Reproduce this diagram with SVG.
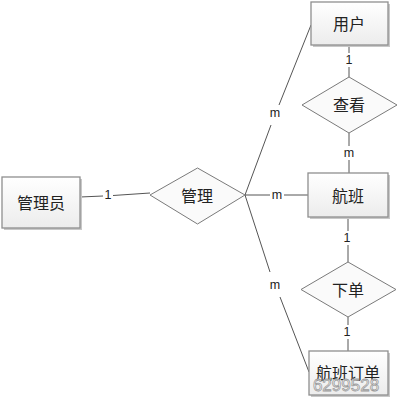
<svg xmlns="http://www.w3.org/2000/svg" width="401" height="401" viewBox="0 0 401 401">
<style>
.box{fill:url(#g);stroke:#8f8f8f;stroke-width:1.3}
.sh{fill:#c8c8c8}
.dia{fill:#fafafa;stroke:#7a7a7a;stroke-width:1}
.t{font-family:"Noto Sans CJK SC","Liberation Sans",sans-serif;font-size:16px;fill:#222;text-anchor:middle;dominant-baseline:central}
.l{font-family:"Liberation Sans",Arial,sans-serif;font-size:12.5px;fill:#222;text-anchor:middle;dominant-baseline:central}
.c{stroke:#555;stroke-width:1;fill:none}
.wm{font-family:"Liberation Sans",Arial,sans-serif;font-size:17px;fill:#fff;stroke:#9a9a9a;stroke-width:0.8;text-anchor:middle;dominant-baseline:central}
</style>
<defs>
<linearGradient id="g" x1="0" y1="0" x2="0" y2="1">
<stop offset="0" stop-color="#ffffff"/>
<stop offset="1" stop-color="#ececec"/>
</linearGradient>
</defs>
<rect width="401" height="401" fill="#fff"/>
<g id="connectors">
<line class="c" x1="80" y1="197" x2="103" y2="196"/>
<line class="c" x1="113" y1="195.5" x2="150" y2="193"/>
<line class="c" x1="245" y1="195" x2="270" y2="195"/>
<line class="c" x1="284" y1="195" x2="308" y2="195"/>
<line class="c" x1="245" y1="195" x2="271" y2="125"/>
<line class="c" x1="279" y1="105" x2="311" y2="25"/>
<line class="c" x1="245" y1="195" x2="270" y2="272"/>
<line class="c" x1="280" y1="297" x2="309" y2="372"/>
<line class="c" x1="349" y1="45" x2="349" y2="53"/>
<line class="c" x1="349" y1="67" x2="349" y2="77"/>
<line class="c" x1="349" y1="133" x2="349" y2="146"/>
<line class="c" x1="349" y1="160" x2="349" y2="173"/>
<line class="c" x1="348" y1="217" x2="348" y2="231"/>
<line class="c" x1="348" y1="245" x2="348" y2="262"/>
<line class="c" x1="348" y1="317" x2="348" y2="325"/>
<line class="c" x1="348" y1="339" x2="348" y2="351"/>
<text class="l" x="108" y="195">1</text>
<text class="l" x="277" y="195">m</text>
<text class="l" x="275" y="113">m</text>
<text class="l" x="275" y="285">m</text>
<text class="l" x="349" y="60">1</text>
<text class="l" x="349" y="153">m</text>
<text class="l" x="347" y="238">1</text>
<text class="l" x="347" y="332">1</text>
</g>
<g id="admin">
<rect class="sh" x="4" y="179" width="78" height="51"/>
<rect class="box" x="2" y="177" width="78" height="51"/>
<text class="t" x="41" y="202">管理员</text>
</g>
<g id="manage">
<polygon class="dia" points="150,195 197.5,168 245,195 197.5,224"/>
<text class="t" x="197" y="195">管理</text>
</g>
<g id="user">
<rect class="sh" x="313" y="4" width="77" height="43"/>
<rect class="box" x="311" y="2" width="77" height="43"/>
<text class="t" x="349" y="23">用户</text>
</g>
<g id="view">
<polygon class="dia" points="302,105 349,77 397,105 349,133"/>
<text class="t" x="349" y="104">查看</text>
</g>
<g id="flight">
<rect class="sh" x="310" y="175" width="80" height="44"/>
<rect class="box" x="308" y="173" width="80" height="44"/>
<text class="t" x="348" y="195">航班</text>
</g>
<g id="order">
<polygon class="dia" points="301,289.5 348,262 396,289.5 348,317"/>
<text class="t" x="348" y="289">下单</text>
</g>
<g id="flightorder">
<rect class="sh" x="311" y="353" width="79" height="44"/>
<rect class="box" x="309" y="351" width="79" height="44"/>
<text class="t" x="348" y="372">航班订单</text>
<text class="wm" x="346" y="385">6299528</text>
</g>
</svg>
